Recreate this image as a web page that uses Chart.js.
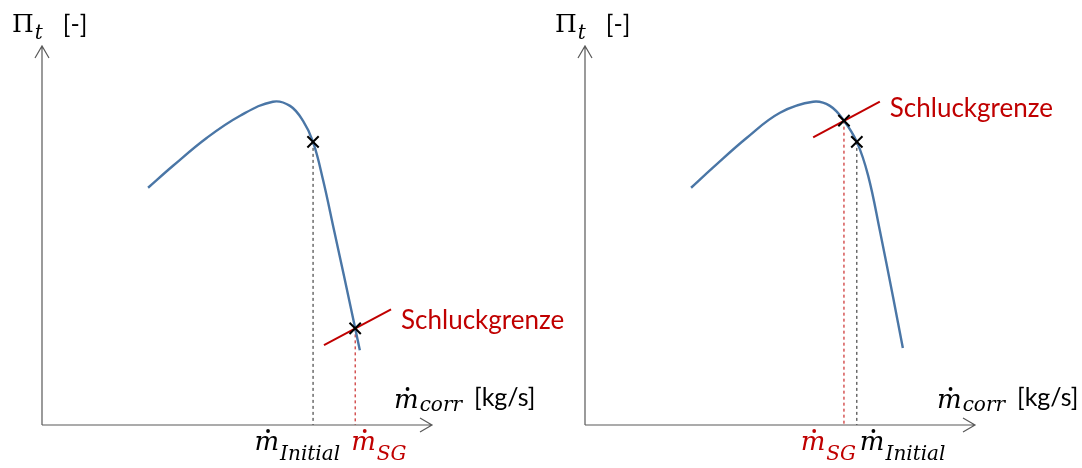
<!DOCTYPE html>
<html>
<head>
<meta charset="utf-8">
<script src="https://cdn.jsdelivr.net/npm/chart.js@4.4.1/dist/chart.umd.min.js"></script>
<style>
  html, body { margin: 0; padding: 0; background: #fff; }
  #wrap { position: relative; width: 1082px; height: 468px; }
  #wrap canvas { position: absolute; left: 0; top: 0; }
</style>
</head>
<body>
<div id="wrap">
  <canvas id="links" width="1082" height="468" style="width:1082px;height:468px"></canvas>
  <canvas id="rechts" width="1082" height="468" style="width:1082px;height:468px"></canvas>
</div>
<script>
// Verdichterkennlinie links (Schluckgrenze im steilen Ast unten)
const leftCurveX = [2.72, 3.36, 4.23, 5.08, 5.92, 6.36, 6.69, 6.95, 7.21, 7.49, 7.74, 8.03, 8.15];
const leftCurveY = [6.26, 6.84, 7.58, 8.16, 8.53, 8.42, 8.03, 7.47, 6.45, 5.13, 3.95, 2.55, 1.97];
const leftInitial = [6.95, 7.47];
const leftSG = [8.03, 2.55];
const leftLimitX = [7.23, 8.95];
const leftLimitY = [2.11, 3.05];

// Verdichterkennlinie rechts (Schluckgrenze vor dem Initialpunkt)
const rightCurveX = [2.72, 3.28, 4.15, 5.00, 5.85, 6.28, 6.64, 6.97, 7.26, 7.56, 7.90, 8.15];
const rightCurveY = [6.26, 6.79, 7.58, 8.24, 8.53, 8.42, 8.03, 7.47, 6.58, 5.13, 3.37, 2.03];
const rightInitial = [6.97, 7.47];
const rightSG = [6.64, 8.03];
const rightLimitX = [5.85, 7.56];
const rightLimitY = [7.59, 8.53];

// Achsenbereich
const axisMax = 10;

const BLUE = '#4a76a6';
const RED = '#c00000';
const AXIS = '#595959';
const SERIF = '"DejaVu Serif"';
const SANS = 'Lato';

const toPoints = (xs, ys) => xs.map((x, i) => ({ x: x, y: ys[i] }));

// Formelzeichen mit Index; Massenstrom als kursives m mit Punkt darüber
function drawMath(ctx, x, y, base, sub, color, align, subDy, dotted) {
    const baseFont = dotted ? 'italic 26px ' + SERIF : '25px ' + SERIF;
    const subFont = 'italic 20px ' + SERIF;
    ctx.font = baseFont;
    const wBase = ctx.measureText(base).width;
    ctx.font = subFont;
    const wSub = ctx.measureText(sub).width;
    const total = wBase + wSub + 1;
    const start = align === 'right' ? x - total : x;
    ctx.fillStyle = color;
    ctx.textBaseline = 'alphabetic';
    ctx.textAlign = 'left';
    ctx.font = baseFont;
    ctx.fillText(base, start, y);
    if (dotted) {
        ctx.beginPath();
        ctx.arc(start + wBase * 0.55, y - 19, 1.9, 0, Math.PI * 2);
        ctx.fill();
    }
    ctx.font = subFont;
    ctx.fillText(sub, start + wBase + 1, y + subDy);
    return start + total;
}

const sketchPlugin = {
    id: 'skizze',
    afterDatasetsDraw(chart, args, opts) {
        const ctx = chart.ctx;
        const xs = chart.scales.x, ys = chart.scales.y;
        const a = chart.chartArea;
        ctx.save();

        // Achsen mit Pfeilspitzen
        ctx.strokeStyle = AXIS;
        ctx.lineWidth = 1.2;
        ctx.beginPath();
        ctx.moveTo(a.left, a.bottom);
        ctx.lineTo(a.right, a.bottom);
        ctx.moveTo(a.right - 12, a.bottom - 7);
        ctx.lineTo(a.right, a.bottom);
        ctx.lineTo(a.right - 12, a.bottom + 7);
        ctx.moveTo(a.left, a.bottom);
        ctx.lineTo(a.left, a.top);
        ctx.moveTo(a.left - 7, a.top + 12);
        ctx.lineTo(a.left, a.top);
        ctx.lineTo(a.left + 7, a.top + 12);
        ctx.stroke();

        // Achsentitel
        const piEnd = drawMath(ctx, a.left - 30, 32, 'Π', 't', '#000', 'left', 7, false);
        ctx.font = '25px ' + SANS;
        ctx.fillStyle = '#000';
        ctx.fillText('[-]', piEnd + 20, 33);

        const mEnd = drawMath(ctx, a.right - 38, a.bottom - 17, 'm', 'corr', '#000', 'left', 3, true);
        ctx.font = '25px ' + SANS;
        ctx.fillStyle = '#000';
        ctx.fillText('[kg/s]', mEnd + 12, a.bottom - 19);

        // Beschriftung Schluckgrenze am Ende der roten Linie
        ctx.font = '26px ' + SANS;
        ctx.fillStyle = RED;
        ctx.textBaseline = 'middle';
        ctx.fillText('Schluckgrenze', xs.getPixelForValue(opts.limitX) + 10, ys.getPixelForValue(opts.limitY) + opts.labelDy);

        // Massenstrom-Marken unter der Abszisse
        opts.marks.forEach(m => {
            const px = xs.getPixelForValue(m.x) + m.dx;
            drawMath(ctx, px, a.bottom + 25, 'm', m.sub, m.color, m.align, 10, true);
        });
        ctx.restore();
    }
};

function buildChart(id, pad, curve, initial, sg, limit, labelDy, marks) {
    const dropLine = (pt, color) => ({
        data: [{ x: pt[0], y: pt[1] }, { x: pt[0], y: 0 }],
        showLine: true,
        borderColor: color,
        borderWidth: 1,
        borderDash: [3, 3],
        pointRadius: 0,
        order: 3
    });
    return new Chart(document.getElementById(id), {
        type: 'scatter',
        data: {
            datasets: [
                dropLine(initial, '#222'),
                dropLine(sg, RED),
                {
                    data: toPoints(curve[0], curve[1]),
                    showLine: true,
                    borderColor: BLUE,
                    borderWidth: 2.4,
                    tension: 0.4,
                    pointRadius: 0,
                    order: 2
                },
                {
                    data: toPoints(limit[0], limit[1]),
                    showLine: true,
                    borderColor: RED,
                    borderWidth: 2,
                    pointRadius: 0,
                    order: 1
                },
                {
                    data: [{ x: initial[0], y: initial[1] }, { x: sg[0], y: sg[1] }],
                    showLine: false,
                    pointStyle: 'crossRot',
                    pointRadius: 8,
                    borderColor: '#000',
                    borderWidth: 2,
                    order: 0
                }
            ]
        },
        options: {
            responsive: false,
            animation: false,
            events: [],
            layout: { padding: pad },
            scales: {
                x: { type: 'linear', display: false, min: 0, max: axisMax },
                y: { type: 'linear', display: false, min: 0, max: axisMax }
            },
            plugins: {
                legend: { display: false },
                tooltip: { enabled: false },
                skizze: {
                    limitX: limit[0][1],
                    limitY: limit[1][1],
                    labelDy: labelDy,
                    marks: marks
                }
            }
        },
        plugins: [sketchPlugin]
    });
}

buildChart('links', { left: 42, right: 650, top: 46, bottom: 43 },
    [leftCurveX, leftCurveY], leftInitial, leftSG, [leftLimitX, leftLimitY], 11,
    [
        { x: leftInitial[0], sub: 'Initial', color: '#000', align: 'right', dx: 27 },
        { x: leftSG[0], sub: 'SG', color: RED, align: 'left', dx: -4 }
    ]);

buildChart('rechts', { left: 585, right: 107, top: 46, bottom: 43 },
    [rightCurveX, rightCurveY], rightInitial, rightSG, [rightLimitX, rightLimitY], 7,
    [
        { x: rightSG[0], sub: 'SG', color: RED, align: 'right', dx: 12 },
        { x: rightInitial[0], sub: 'Initial', color: '#000', align: 'left', dx: 3 }
    ]);
</script>
</body>
</html>
